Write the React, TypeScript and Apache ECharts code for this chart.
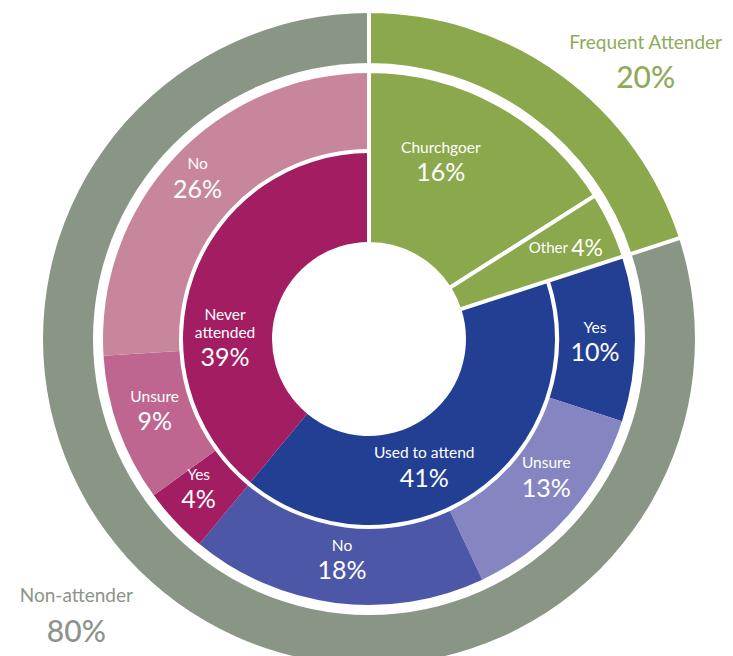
import React, { useEffect, useRef } from "react";
import * as echarts from "echarts";

// ---- data ----
const outerNames = ["Frequent Attender", "Non-attender"];
const outerValues = [20, 80];

const middleNames = ["Churchgoer", "Other", "Yes", "Unsure", "No", "Yes", "Unsure", "No"];
const middleValues = [16, 4, 10, 13, 18, 4, 9, 26];

const innerNames = ["Frequent Attender", "Used to attend", "Never attended"];
const innerValues = [20, 41, 39];

// ---- styles ----
const C_GREY = "#8a9685";
const C_GREEN = "#8ba84c";
const middleColors = [C_GREEN, C_GREEN, "#233f94", "#8585c1", "#4d57a7", "#a31d62", "#be6690", "#c8869d"];
const innerColors = ["transparent", "#233f94", "#a31d62"];
const outerTextColors = ["#8faa5c", "#8d9389"];

const FONT = "Lato, 'Open Sans', sans-serif";
const CENTER = [369, 339];

// label nudges (dx, dy)
const outerNudge = [[98, -32], [-114, 30]];
const greenNudge = [[-17, -15], [30, -13]];
const restNudge = [[-5, 3], [4, -14], [2, -8], [-2, -8], [3, -6], [-3, -2]];
const innerNudge = [[0, 0], [-26, 9], [-8, 48]];

const placeholder = (v: number) => ({
  value: v,
  name: "",
  itemStyle: { color: "transparent", borderWidth: 0 },
  label: { show: false },
  emphasis: { disabled: true },
});

const segLabel = (name: string, pct: number, small = false) => {
  if (small) return `{s|${name}} {ps|${pct}%}`;
  const lines = name === "Never attended" ? ["Never", "attended"] : [name];
  return lines.map((l) => `{n|${l}}`).join("\n") + `\n{p|${pct}%}`;
};

const richSeg = {
  n: { color: "#ffffff", fontSize: 15.5, lineHeight: 18, fontFamily: FONT },
  p: { color: "#ffffff", fontSize: 25, lineHeight: 31, fontFamily: FONT },
  s: { color: "#ffffff", fontSize: 15, lineHeight: 26, fontFamily: FONT },
  ps: { color: "#ffffff", fontSize: 23, lineHeight: 26, fontFamily: FONT },
};

export default function App() {
  const ref = useRef<HTMLDivElement>(null);
  useEffect(() => {
    if (!ref.current) return;
    const chart = echarts.init(ref.current, null, { renderer: "svg" });

    const greenTotal = middleValues[0] + middleValues[1];
    const restTotal = middleValues.slice(2).reduce((a, b) => a + b, 0);

    const base = {
      type: "pie",
      center: CENTER,
      startAngle: 90,
      clockwise: true,
      avoidLabelOverlap: false,
      silent: true,
      labelLine: { show: false },
      emphasis: { disabled: true },
    };

    const option: any = {
      animation: false,
      backgroundColor: "#ffffff",
      series: [
        // outer ring: non-attender part (no border)
        {
          ...base,
          id: "outerGrey",
          radius: [276, 326],
          itemStyle: { borderWidth: 0 },
          label: { show: true, position: "inside" },
          labelLayout: (p: any) => (p.dataIndex === 1 ? { dx: outerNudge[1][0], dy: outerNudge[1][1] } : {}),
          data: [
            placeholder(outerValues[0]),
            {
              name: outerNames[1],
              value: outerValues[1],
              itemStyle: { color: C_GREY },
              label: {
                formatter: `{n|${outerNames[1]}}\n{p|${outerValues[1]}%}`,
                rich: {
                  n: { color: outerTextColors[1], fontSize: 19, lineHeight: 30, fontFamily: FONT },
                  p: { color: outerTextColors[1], fontSize: 30, lineHeight: 40, fontFamily: FONT, fontWeight: 500 },
                },
              },
            },
          ],
        },
        // middle ring, non-green part
        {
          ...base,
          id: "middleRest",
          radius: [190, 266],
          itemStyle: { borderWidth: 0 },
          label: { show: true, position: "inside", rich: richSeg },
          labelLayout: (p: any) =>
            p.dataIndex > 0 ? { dx: restNudge[p.dataIndex - 1][0], dy: restNudge[p.dataIndex - 1][1] } : {},
          data: [
            placeholder(greenTotal),
            ...middleNames.slice(2).map((n, j) => ({
              name: n,
              value: middleValues[j + 2],
              itemStyle: { color: middleColors[j + 2] },
              label: { formatter: segLabel(n, middleValues[j + 2]) },
            })),
          ],
        },
        // inner ring
        {
          ...base,
          id: "inner",
          radius: [97, 186],
          itemStyle: { borderWidth: 0 },
          label: { show: true, position: "inside", rich: richSeg },
          labelLayout: (p: any) => ({ dx: innerNudge[p.dataIndex][0], dy: innerNudge[p.dataIndex][1] }),
          data: innerNames.map((n, i) =>
            i === 0
              ? placeholder(innerValues[0])
              : {
                  name: n,
                  value: innerValues[i],
                  itemStyle: { color: innerColors[i] },
                  label: { formatter: segLabel(n, innerValues[i]) },
                }
          ),
        },
        // outer ring: frequent attender (bordered, drawn on top)
        {
          ...base,
          id: "outerGreen",
          radius: [274, 328],
          itemStyle: { borderColor: "#ffffff", borderWidth: 4 },
          label: { show: true, position: "inside" },
          labelLayout: (p: any) => (p.dataIndex === 0 ? { dx: outerNudge[0][0], dy: outerNudge[0][1] } : {}),
          data: [
            {
              name: outerNames[0],
              value: outerValues[0],
              itemStyle: { color: C_GREEN },
              label: {
                formatter: `{n|${outerNames[0]}}\n{p|${outerValues[0]}%}`,
                rich: {
                  n: { color: outerTextColors[0], fontSize: 19, lineHeight: 30, fontFamily: FONT },
                  p: { color: outerTextColors[0], fontSize: 30, lineHeight: 40, fontFamily: FONT, fontWeight: 500 },
                },
              },
            },
            placeholder(outerValues[1]),
          ],
        },
        // middle ring, green part spanning down to the hole (bordered, drawn on top)
        {
          ...base,
          id: "middleGreen",
          radius: [95, 268],
          itemStyle: { borderColor: "#ffffff", borderWidth: 4 },
          label: { show: true, position: "inside", rich: richSeg },
          labelLayout: (p: any) =>
            p.dataIndex < 2 ? { dx: greenNudge[p.dataIndex][0], dy: greenNudge[p.dataIndex][1] } : {},
          data: [
            ...middleNames.slice(0, 2).map((n, i) => ({
              name: n,
              value: middleValues[i],
              itemStyle: { color: middleColors[i] },
              label: { formatter: segLabel(n, middleValues[i], i === 1) },
            })),
            placeholder(restTotal),
          ],
        },
      ],
    };
    chart.setOption(option);
    return () => chart.dispose();
  }, []);

  return (
    <div
      ref={ref}
      style={{ position: "fixed", left: 0, top: 0, width: 733, height: 656, background: "#fff" }}
    />
  );
}
